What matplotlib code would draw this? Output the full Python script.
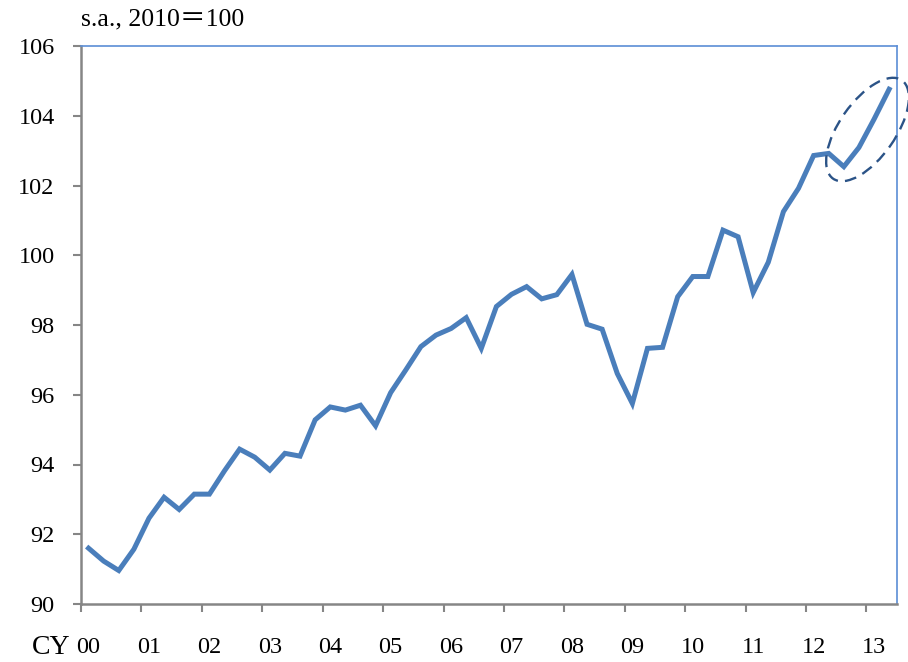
import matplotlib
matplotlib.use("Agg")
import matplotlib.pyplot as plt
from matplotlib.patches import Ellipse
import numpy as np

# Quarterly index, 2000Q1 - 2013Q2 (s.a., 2010=100)
values = [
    91.60, 91.23, 90.96, 91.57, 92.46, 93.06, 92.71, 93.15,   # 00-01
    93.15, 93.82, 94.44, 94.21, 93.84, 94.32, 94.24, 95.28,   # 02-03
    95.65, 95.56, 95.70, 95.11, 96.06, 96.71, 97.38, 97.71,   # 04-05
    97.90, 98.21, 97.33, 98.53, 98.88, 99.10, 98.75, 98.87,   # 06-07
    99.45, 98.02, 97.88, 96.61, 95.75, 97.33, 97.36, 98.81,   # 08-09
    99.39, 99.39, 100.72, 100.53, 98.93, 99.80, 101.25, 101.92,  # 10-11
    102.86, 102.92, 102.54, 103.09, 103.90, 104.76,           # 12-13Q2
]
year_labels = ["00", "01", "02", "03", "04", "05", "06", "07",
               "08", "09", "10", "11", "12", "13"]
y_ticks = [90, 92, 94, 96, 98, 100, 102, 104, 106]

SERIF = ["Liberation Serif", "Noto Sans CJK JP", "DejaVu Serif"]
plt.rcParams["font.family"] = SERIF

fig = plt.figure(figsize=(9.08, 6.62), dpi=100)
ax = fig.add_axes([81 / 908, 58 / 662, (896.7 - 81) / 908, (604 - 46) / 662])

n = len(values)
x = np.arange(n) + 0.5
ax.plot(x, values, color="#4A7EBB", lw=3.6, solid_joinstyle="miter",
        clip_on=False, zorder=3)

ax.set_xlim(0, 54)
ax.set_ylim(90, 106)

# y axis
ax.set_yticks(y_ticks)
ax.set_yticklabels([str(v) for v in y_ticks], fontsize=17.5)

# x axis: tick marks at year boundaries, labels under first quarter
ax.set_xticks(np.arange(0, 54, 4))
ax.set_xticklabels([])
ax.set_xticks(np.arange(len(year_labels)) * 4 + 0.5, minor=True)
ax.set_xticklabels(year_labels, minor=True, fontsize=17.5)

grey = "#868686"
ax.tick_params(axis="y", which="major", direction="out", length=6, width=1.5,
               color=grey, pad=13)
ax.tick_params(axis="x", which="major", direction="out", length=5.5, width=1.5,
               color=grey)
ax.tick_params(axis="x", which="minor", length=0, pad=24)

for s in ["left", "bottom"]:
    ax.spines[s].set_color(grey)
    ax.spines[s].set_linewidth(1.8)
for s in ["top", "right"]:
    ax.spines[s].set_color("#5B8ED6")
    ax.spines[s].set_linewidth(1.2)

fig.text(81 / 908, 1 - 19 / 662, "s.a., 2010＝100", fontsize=18.5, va="center",
         ha="left", family=SERIF)
fig.text(32 / 908, 1 - 647 / 662, "CY", fontsize=20, va="center", ha="left")

# dashed ellipse highlighting the latest quarters
ell = Ellipse((8.675, 5.325), width=1.20, height=0.56, angle=55,
              transform=fig.dpi_scale_trans, fill=False, edgecolor="#2B5387",
              lw=1.7, linestyle=(0, (5, 3)), clip_on=False, zorder=4)
fig.add_artist(ell)

fig.savefig("out.png", dpi=100)
